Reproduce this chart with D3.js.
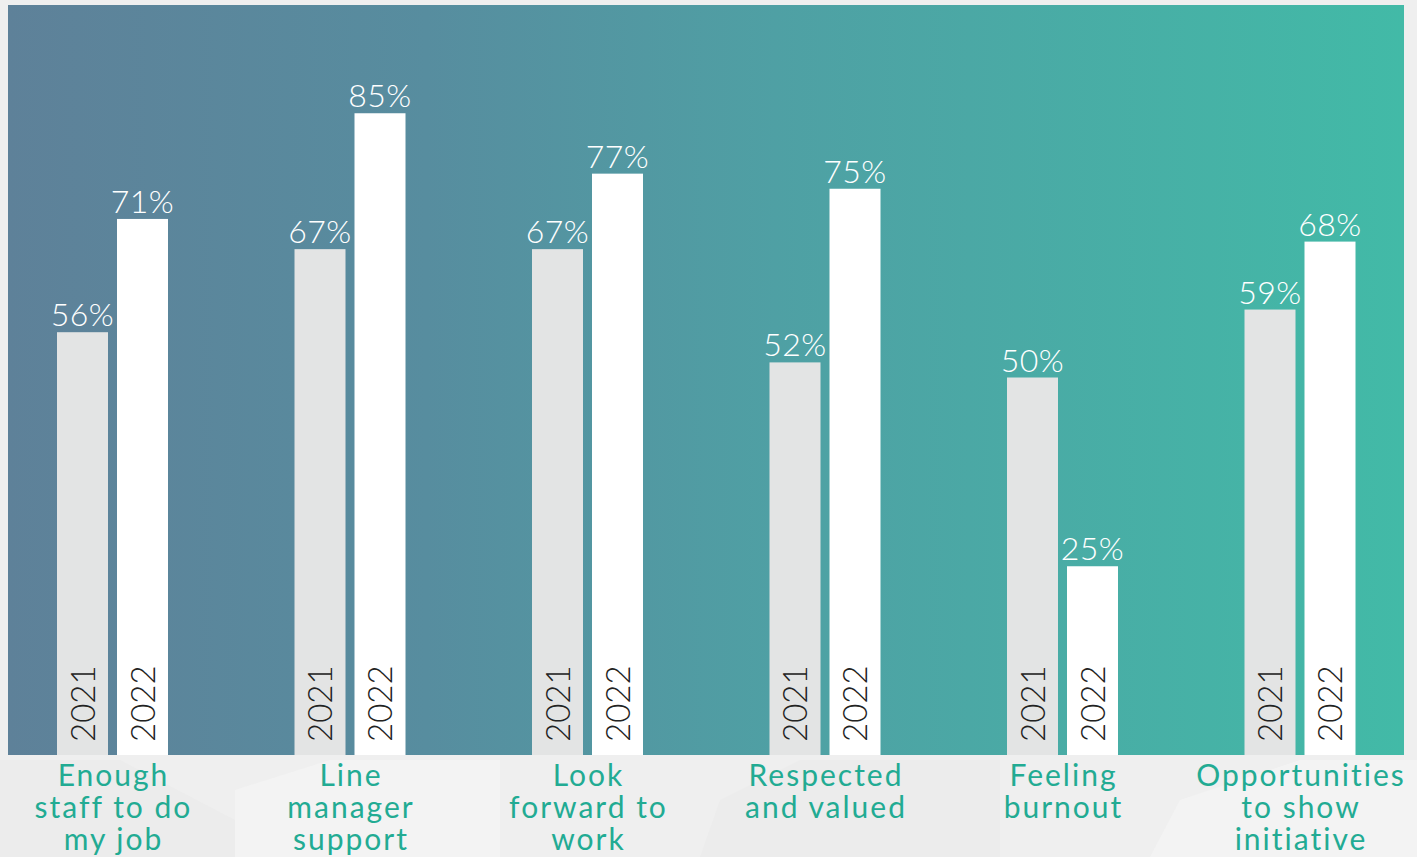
<!DOCTYPE html>
<html>
<head>
<meta charset="utf-8">
<script src="https://cdn.jsdelivr.net/npm/d3@7"></script>
<style>
  html, body { margin: 0; padding: 0; background: #f0f0f0; }
  svg { display: block; }
</style>
</head>
<body>
<div id="chart"></div>
<script>
// chart data
var categories = ["enough", "line", "look", "respected", "burnout", "opps"];
var categoryLines = [
    ["Enough", "staff to do", "my job"],
    ["Line", "manager", "support"],
    ["Look", "forward to", "work"],
    ["Respected", "and valued"],
    ["Feeling", "burnout"],
    ["Opportunities", "to show", "initiative"]
];
var years = ["2021", "2022"];
var values2021 = [56, 67, 67, 52, 50, 59];
var values2022 = [71, 85, 77, 75, 25, 68];

var W = 1417, H = 857;
var plot = {left: 8, right: 1404, top: 5, bottom: 755};
var fontFam = "Lato, 'Open Sans', sans-serif";

var svg = d3.select("#chart").append("svg")
    .attr("width", W)
    .attr("height", H);

// page background with some faint shapes
svg.append("rect").attr("width", W).attr("height", H).attr("fill", "#efefef");
var shapes = [
    [[0, 760], [120, 760], [235, 820], [235, 857], [0, 857]],
    [[235, 790], [330, 760], [500, 760], [500, 857], [235, 857]],
    [[700, 857], [720, 800], [800, 760], [1000, 760], [1000, 857]],
    [[1150, 857], [1180, 800], [1300, 760], [1417, 760], [1417, 857]]
];
svg.selectAll("polygon.bgshape")
    .data(shapes)
    .enter()
    .append("polygon")
    .attr("class", "bgshape")
    .attr("points", function (d) { return d.map(function (p) { return p.join(","); }).join(" "); })
    .attr("fill", function (d, i) { return i % 2 ? "#f3f3f3" : "#ececec"; });

// gradient panel
var defs = svg.append("defs");
var grad = defs.append("linearGradient")
    .attr("id", "panelGrad")
    .attr("x1", "0%").attr("y1", "0%")
    .attr("x2", "100%").attr("y2", "0%");
grad.append("stop").attr("offset", "0%").attr("stop-color", "#5e8199");
grad.append("stop").attr("offset", "30%").attr("stop-color", "#578d9f");
grad.append("stop").attr("offset", "55%").attr("stop-color", "#4fa0a4");
grad.append("stop").attr("offset", "100%").attr("stop-color", "#42baa7");

svg.append("rect")
    .attr("x", plot.left)
    .attr("y", plot.top)
    .attr("width", plot.right - plot.left)
    .attr("height", plot.bottom - plot.top)
    .attr("fill", "url(#panelGrad)");

// scales
var x = d3.scalePoint()
    .domain(categories)
    .range([112.5, 1300]);

var xYear = d3.scaleBand()
    .domain(years)
    .range([-55.5, 55.5])
    .paddingInner(0.15);

var y = d3.scaleLinear()
    .domain([0, 100])
    .range([plot.bottom, 0]);

var barColor = {"2021": "#e3e4e4", "2022": "#ffffff"};

var rows = [];
categories.forEach(function (c, i) {
    rows.push({cat: c, year: "2021", value: values2021[i]});
    rows.push({cat: c, year: "2022", value: values2022[i]});
});

var groups = svg.selectAll("g.bar")
    .data(rows)
    .enter()
    .append("g")
    .attr("class", "bar")
    .attr("transform", function (d) { return "translate(" + (x(d.cat) + xYear(d.year)) + ",0)"; });

groups.append("rect")
    .attr("x", 0)
    .attr("y", function (d) { return y(d.value); })
    .attr("width", xYear.bandwidth())
    .attr("height", function (d) { return plot.bottom - y(d.value); })
    .attr("fill", function (d) { return barColor[d.year]; });

// value labels
groups.append("text")
    .attr("x", xYear.bandwidth() / 2)
    .attr("y", function (d) { return y(d.value) - 6; })
    .attr("text-anchor", "middle")
    .attr("font-family", fontFam)
    .attr("font-weight", 300)
    .attr("font-size", "32px")
    .attr("letter-spacing", "0.5px")
    .attr("fill", "#ffffff")
    .text(function (d) { return d.value + "%"; });

// year labels inside bars
groups.append("text")
    .attr("transform", "translate(" + (xYear.bandwidth() / 2 + 12) + "," + (plot.bottom - 13) + ") rotate(-90)")
    .attr("font-family", fontFam)
    .attr("font-weight", 300)
    .attr("font-size", "33px")
    .attr("fill", "#222222")
    .text(function (d) { return d.year; });

// category labels
var cats = svg.selectAll("text.cat")
    .data(categories)
    .enter()
    .append("text")
    .attr("class", "cat")
    .attr("text-anchor", "middle")
    .attr("font-family", fontFam)
    .attr("font-weight", 400)
    .attr("font-size", "30px")
    .attr("letter-spacing", "2px")
    .attr("fill", "#22ab93");

cats.selectAll("tspan")
    .data(function (d, i) { return categoryLines[i].map(function (l) { return {line: l, x: x(d)}; }); })
    .enter()
    .append("tspan")
    .attr("x", function (d) { return d.x + 1; })
    .attr("y", function (d, j) { return 786 + j * 32; })
    .text(function (d) { return d.line; });
</script>
</body>
</html>
